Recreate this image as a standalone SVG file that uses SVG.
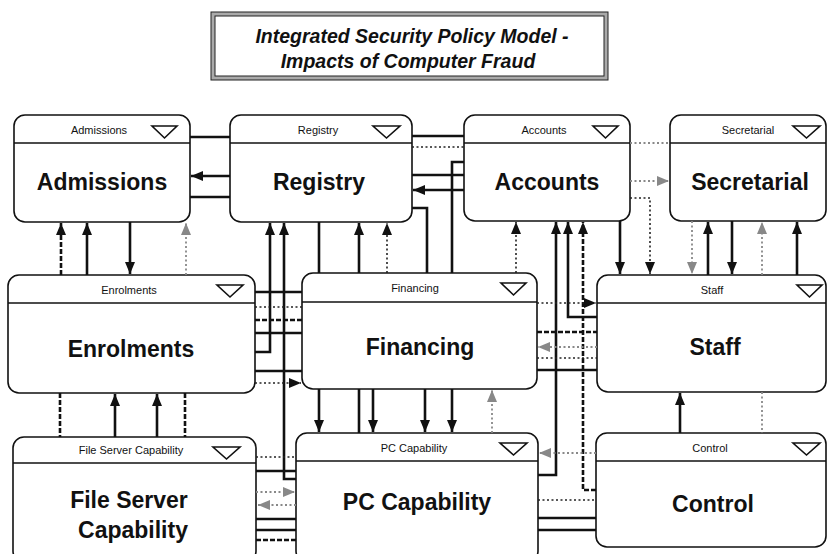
<svg xmlns="http://www.w3.org/2000/svg" width="827" height="554" viewBox="0 0 827 554">
<style>
.box{fill:#fff;stroke:#111;stroke-width:1.6}
.hdr{stroke:#111;stroke-width:1.6}
.tri{fill:#fff;stroke:#111;stroke-width:1.6}
.sm{font-family:"Liberation Sans",Arial,sans-serif;font-size:11px;fill:#111;text-anchor:middle}
.big{font-family:"Liberation Sans",Arial,sans-serif;font-size:23px;font-weight:bold;fill:#111;text-anchor:middle}
.ttl{font-family:"Liberation Sans",Arial,sans-serif;font-size:19.5px;font-weight:bold;font-style:italic;fill:#111;text-anchor:middle}
.s{fill:none;stroke:#111;stroke-width:2.6}
.d{fill:none;stroke:#111;stroke-width:2.6;stroke-dasharray:5 2}
.k{fill:none;stroke:#222;stroke-width:1.6;stroke-dasharray:2 2.5}
.g{fill:none;stroke:#888;stroke-width:1.8;stroke-dasharray:2 2.5}
.ab{marker-end:url(#ab)}
.ag{marker-end:url(#ag)}
</style>
<defs>
<marker id="ab" viewBox="0 0 12 10" refX="12" refY="5" markerWidth="12" markerHeight="11" markerUnits="userSpaceOnUse" orient="auto"><path d="M0,0 L12,5 L0,10 z" fill="#111"/></marker>
<marker id="ag" viewBox="0 0 12 10" refX="12" refY="5" markerWidth="12" markerHeight="11" markerUnits="userSpaceOnUse" orient="auto"><path d="M0,0 L12,5 L0,10 z" fill="#888"/></marker>
</defs>
<rect width="827" height="554" fill="#fff"/>
<g id="title">
<rect x="211" y="12" width="397" height="68" fill="#aaa" stroke="#222" stroke-width="1"/>
<rect x="215" y="16" width="389" height="60" fill="#fff" stroke="#222" stroke-width="1"/>
<text class="ttl" x="412" y="43">Integrated Security Policy Model -</text>
<text class="ttl" x="408" y="68">Impacts of Computer Fraud</text>
</g>
<g id="admissions">
<rect class="box" x="14" y="115" width="176" height="107" rx="11"/>
<line class="hdr" x1="14" y1="143" x2="190" y2="143"/>
<text class="sm" x="99" y="134">Admissions</text>
<path class="tri" d="M152,126 L177,126 L164.5,138 z"/>
<text class="big" x="102" y="190">Admissions</text>
</g>
<g id="registry">
<rect class="box" x="230" y="115" width="182" height="107" rx="11"/>
<line class="hdr" x1="230" y1="143" x2="412" y2="143"/>
<text class="sm" x="318" y="134">Registry</text>
<path class="tri" d="M373,126 L400,126 L386.5,138 z"/>
<text class="big" x="319" y="190">Registry</text>
</g>
<g id="accounts">
<rect class="box" x="464" y="115" width="166" height="106" rx="11"/>
<line class="hdr" x1="464" y1="143" x2="630" y2="143"/>
<text class="sm" x="544" y="134">Accounts</text>
<path class="tri" d="M593,126 L618,126 L605.5,138 z"/>
<text class="big" x="547" y="190">Accounts</text>
</g>
<g id="secretarial">
<rect class="box" x="670" y="115" width="156" height="106" rx="11"/>
<line class="hdr" x1="670" y1="143" x2="826" y2="143"/>
<text class="sm" x="748" y="134">Secretarial</text>
<path class="tri" d="M793,126 L820,126 L806.5,138 z"/>
<text class="big" x="750" y="190">Secretarial</text>
</g>
<g id="enrolments">
<rect class="box" x="8" y="275" width="247" height="118" rx="11"/>
<line class="hdr" x1="8" y1="303" x2="255" y2="303"/>
<text class="sm" x="129" y="294">Enrolments</text>
<path class="tri" d="M217,285 L243,285 L230,297 z"/>
<text class="big" x="131" y="357">Enrolments</text>
</g>
<g id="financing">
<rect class="box" x="302" y="273" width="235" height="116" rx="11"/>
<line class="hdr" x1="302" y1="302" x2="537" y2="302"/>
<text class="sm" x="415" y="292">Financing</text>
<path class="tri" d="M501,283 L526,283 L513.5,295 z"/>
<text class="big" x="420" y="355">Financing</text>
</g>
<g id="staff">
<rect class="box" x="597" y="275" width="229" height="117" rx="11"/>
<line class="hdr" x1="597" y1="303" x2="826" y2="303"/>
<text class="sm" x="712" y="294">Staff</text>
<path class="tri" d="M797,285 L822,285 L809.5,297 z"/>
<text class="big" x="715" y="355">Staff</text>
</g>
<g id="fileserver">
<rect class="box" x="13" y="437" width="243" height="125" rx="11"/>
<line class="hdr" x1="13" y1="463" x2="256" y2="463"/>
<text class="sm" x="131" y="454">File Server Capability</text>
<path class="tri" d="M213,447 L240,447 L226.5,459 z"/>
<text class="big" x="129" y="508">File Server</text>
<text class="big" x="133" y="538">Capability</text>
</g>
<g id="pccapability">
<rect class="box" x="296" y="433" width="242" height="129" rx="11"/>
<line class="hdr" x1="296" y1="461" x2="538" y2="461"/>
<text class="sm" x="414" y="452">PC Capability</text>
<path class="tri" d="M500,443 L527,443 L513.5,455 z"/>
<text class="big" x="417" y="510">PC Capability</text>
</g>
<g id="control">
<rect class="box" x="596" y="433" width="230" height="114" rx="11"/>
<line class="hdr" x1="596" y1="461" x2="826" y2="461"/>
<text class="sm" x="710" y="452">Control</text>
<path class="tri" d="M793,443 L820,443 L806.5,455 z"/>
<text class="big" x="713" y="512">Control</text>
</g>
<g id="connectors">
<path class="s" d="M190,137 H230"/>
<path class="s ab" d="M230,176 H191"/>
<path class="s" d="M190,197 H230"/>
<path class="s" d="M412,136 H464"/>
<path class="k" d="M412,147 H464"/>
<path class="s" d="M412,175 H464"/>
<path class="s ab" d="M464,190 H413"/>
<path class="s" d="M464,162 H452 V273"/>
<path class="s" d="M412,208 H427 V273"/>
<path class="g" d="M630,143 H670"/>
<path class="g ag" d="M630,181 H669"/>
<path class="k ab" d="M630,198 H650 V274"/>
<path class="k ab" d="M516,273 V222"/>
<path class="s ab" d="M538,475 H556 V222"/>
<path class="s ab" d="M597,317 H568 V222"/>
<path class="d ab" d="M596,490 H583 V222"/>
<path class="s ab" d="M620,221 V274"/>
<path class="g ag" d="M692,221 V274"/>
<path class="s ab" d="M708,275 V222"/>
<path class="s ab" d="M732,221 V274"/>
<path class="g ag" d="M762,275 V222"/>
<path class="s ab" d="M797,275 V222"/>
<path class="d ab" d="M61,275 V223"/>
<path class="s ab" d="M87,275 V223"/>
<path class="s ab" d="M130,222 V274"/>
<path class="g ag" d="M186,275 V223"/>
<path class="s ab" d="M255,352 H270 V223"/>
<path class="s ab" d="M296,479 H284 V223"/>
<path class="s" d="M319,222 V273"/>
<path class="s ab" d="M359,273 V223"/>
<path class="k ab" d="M387,273 V223"/>
<path class="s" d="M255,292 H302"/>
<path class="k" d="M255,307 H302"/>
<path class="d" d="M255,320 H302"/>
<path class="s" d="M255,333 H302"/>
<path class="s" d="M255,371 H302"/>
<path class="k ab" d="M255,383 H301"/>
<path class="s ab" d="M319,389 V432"/>
<path class="s" d="M359,389 V433"/>
<path class="s ab" d="M373,389 V432"/>
<path class="s ab" d="M425,389 V432"/>
<path class="s ab" d="M452,389 V432"/>
<path class="g ag" d="M492,433 V390"/>
<path class="k ab" d="M537,303 H596"/>
<path class="d" d="M537,332 H597"/>
<path class="g ag" d="M597,347 H538"/>
<path class="k" d="M537,358 H597"/>
<path class="s" d="M537,370 H597"/>
<path class="d" d="M60,393 V437"/>
<path class="s ab" d="M115,437 V394"/>
<path class="s ab" d="M157,437 V394"/>
<path class="d" d="M185,393 V437"/>
<path class="k" d="M256,457 H296"/>
<path class="s" d="M256,471 H296"/>
<path class="g ag" d="M256,492 H295"/>
<path class="g ag" d="M296,505 H258"/>
<path class="s" d="M256,519 H296"/>
<path class="s" d="M256,530 H296"/>
<path class="d" d="M256,540 H296"/>
<path class="g ag" d="M596,453 H539"/>
<path class="k" d="M538,500 H596"/>
<path class="s" d="M538,518 H596"/>
<path class="s" d="M538,530 H596"/>
<path class="s ab" d="M680,433 V393"/>
<path class="g" d="M762,392 V433"/>
</g>
</svg>
